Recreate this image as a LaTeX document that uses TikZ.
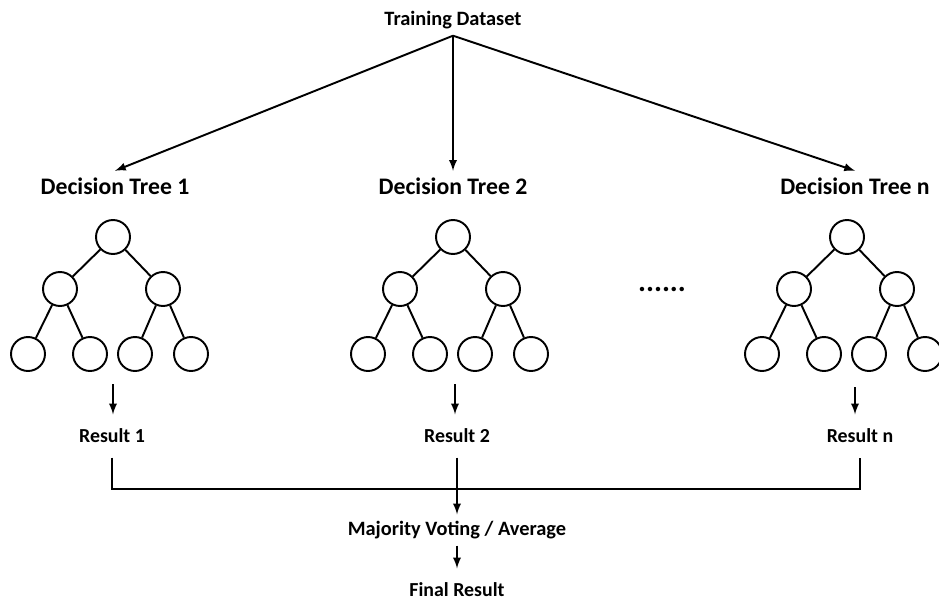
\documentclass[tikz,border=0pt]{standalone}
\usepackage{fontspec}
\setmainfont{Carlito}
\usepackage{tikz}
\usetikzlibrary{shapes,arrows,positioning,fit,calc}

\begin{document}
\begin{tikzpicture}[
    x=0.02cm, y=-0.02cm,
    line width=1.1pt,
    vertex/.style={circle, draw, line width=1.1pt, minimum size=0.68cm, inner sep=0pt},
    title/.style={font=\fontsize{13.5}{15}\selectfont\bfseries},
    label/.style={font=\fontsize{11.6}{13}\selectfont\bfseries},
    result/.style={font=\fontsize{11.3}{13}\selectfont\bfseries, outer sep=5pt},
    arrow/.style={->, >=latex, line width=1.1pt}
]
\useasboundingbox (0,0) rectangle (939,601);

% Training data
\node[label] (data) at (453,20) {Training Dataset};

% Tree titles
\node[title] (dt1) at (115,186) {Decision Tree 1};
\node[title] (dt2) at (453,186) {Decision Tree 2};
\node[title] (dtn) at (855,186) {Decision Tree n};

% Trees
\foreach \t/\x in {1/113, 2/453, n/847} {
    \node[vertex] (t\t) at (\x,237) {};
    \node[vertex] (t\t-l) at (\x-53,289) {};
    \node[vertex] (t\t-r) at (\x+50,289) {};
    \node[vertex] (t\t-ll) at (\x-85,354) {};
    \node[vertex] (t\t-lr) at (\x-23,354) {};
    \node[vertex] (t\t-rl) at (\x+22,354) {};
    \node[vertex] (t\t-rr) at (\x+78,354) {};
    \draw (t\t) -- (t\t-l);
    \draw (t\t) -- (t\t-r);
    \draw (t\t-l) -- (t\t-ll);
    \draw (t\t-l) -- (t\t-lr);
    \draw (t\t-r) -- (t\t-rl);
    \draw (t\t-r) -- (t\t-rr);
}
\node[font=\fontsize{17}{19}\selectfont\bfseries] (dots) at (662,290) {......};

% Results
\node[result] (r1) at (112,436) {Result 1};
\node[result] (r2) at (457,436) {Result 2};
\node[result] (rn) at (860,436) {Result n};
\coordinate (out1) at (113,384);
\coordinate (out2) at (455,384);
\coordinate (outn) at (855,387);
\coordinate (bus) at (457,489);

% Aggregation
\node[label] (vote) at (457,530) {Majority Voting / Average};
\node[result] (final) at (457,590) {Final Result};

% Arrows
\draw[arrow] (data.south) -- (dt1.north);
\draw[arrow] (data.south) -- (dt2.north);
\draw[arrow] (data.south) -- (dtn.north);
\draw[arrow] (out1) -- (out1 |- r1.north);
\draw[arrow] (out2) -- (out2 |- r2.north);
\draw[arrow] (outn) -- (outn |- rn.north);
\draw (r1) |- (bus) -| (rn);
\draw[arrow] (r2) -- (vote);
\draw[arrow] (vote) -- (final);

\end{tikzpicture}
\end{document}
